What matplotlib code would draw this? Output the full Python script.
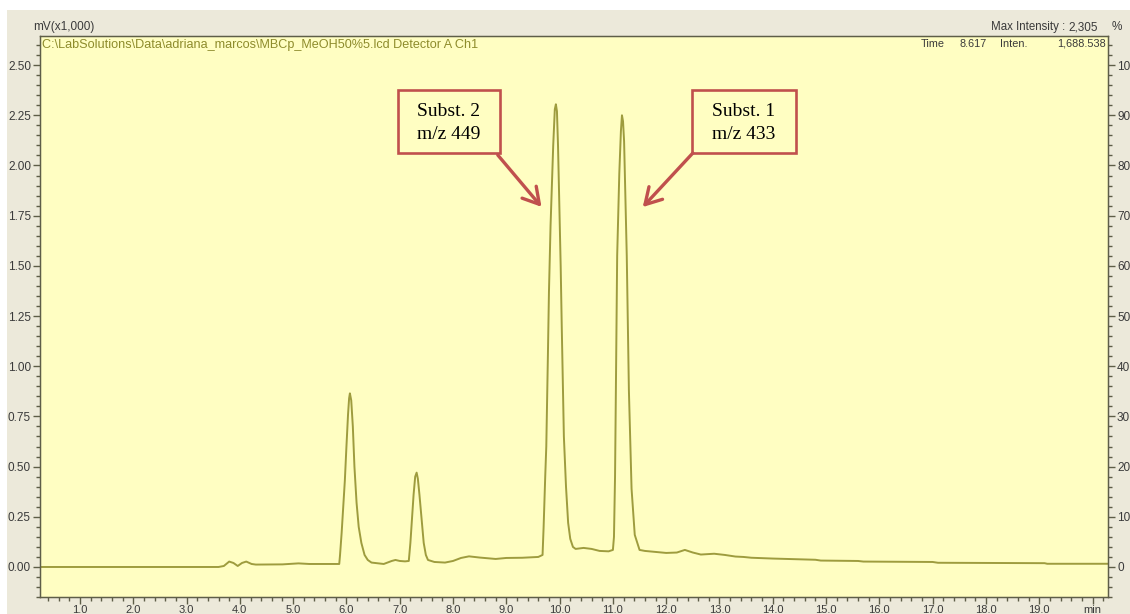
import matplotlib
matplotlib.use("Agg")
import matplotlib.pyplot as plt
from matplotlib.patches import Rectangle
from matplotlib.ticker import FixedLocator, MultipleLocator

# ---------------- data ----------------
time_min = [
    0.25, 3.60, 3.70, 3.80, 3.88, 3.96, 4.04, 4.12, 4.22, 4.30, 4.80, 5.10, 5.30, 5.865,
    5.88, 5.91, 5.94, 5.97, 6.00, 6.03, 6.05, 6.065, 6.09, 6.12, 6.15, 6.19, 6.23, 6.28, 6.34, 6.40, 6.47,
    6.70, 6.85, 6.92, 7.00, 7.10,
    7.17, 7.20, 7.23, 7.26, 7.29, 7.317, 7.34, 7.37, 7.41, 7.45, 7.49, 7.53,
    7.65, 7.85, 8.00, 8.15, 8.30, 8.50, 8.80, 9.00, 9.30, 9.60,
    9.68, 9.70, 9.73, 9.75, 9.78, 9.80, 9.83, 9.85, 9.88, 9.91, 9.93, 9.95, 9.97, 9.99,
    10.02, 10.04, 10.08, 10.12, 10.16, 10.20, 10.25,
    10.30, 10.45, 10.60, 10.75, 10.92,
    11.00, 11.02, 11.04, 11.05, 11.08, 11.12, 11.15, 11.17, 11.19, 11.21, 11.26, 11.30, 11.35, 11.41, 11.50,
    11.60, 11.80, 12.00, 12.20, 12.35, 12.50, 12.65, 12.90, 13.10, 13.30, 13.45, 13.60,
    14.00, 14.80, 14.90, 15.60, 15.70, 17.00, 17.10, 19.10, 19.15, 20.29,
]
signal_v = [  # x1,000 mV
    0.000, 0.000, 0.005, 0.027, 0.020, 0.005, 0.020, 0.027, 0.015, 0.012, 0.013, 0.018, 0.015, 0.015,
    0.060, 0.170, 0.300, 0.430, 0.600, 0.760, 0.840, 0.865, 0.830, 0.700, 0.500, 0.320, 0.200, 0.120, 0.060, 0.035, 0.022,
    0.015, 0.030, 0.035, 0.030, 0.028,
    0.030, 0.120, 0.240, 0.360, 0.450, 0.470, 0.440, 0.360, 0.240, 0.120, 0.060, 0.035,
    0.025, 0.022, 0.030, 0.045, 0.053, 0.047, 0.040, 0.045, 0.046, 0.050,
    0.060, 0.200, 0.450, 0.600, 1.050, 1.370, 1.700, 1.860, 2.100, 2.280, 2.305, 2.270, 2.100, 1.860,
    1.500, 1.200, 0.650, 0.400, 0.220, 0.140, 0.100,
    0.090, 0.095, 0.090, 0.080, 0.078,
    0.085, 0.150, 0.450, 0.720, 1.550, 1.960, 2.170, 2.250, 2.220, 2.120, 1.550, 0.880, 0.390, 0.160, 0.085,
    0.080, 0.075, 0.070, 0.072, 0.085, 0.072, 0.062, 0.066, 0.060, 0.052, 0.050, 0.046,
    0.042, 0.036, 0.032, 0.030, 0.027, 0.025, 0.021, 0.019, 0.016, 0.016,
]
x_major = list(range(1, 21))
x_labels = [f"{v:.1f}" for v in range(1, 20)] + ["min"]
y_major = [0.00, 0.25, 0.50, 0.75, 1.00, 1.25, 1.50, 1.75, 2.00, 2.25, 2.50]
pct_major = list(range(0, 101, 10))

# ---------------- figure ----------------
W, H = 1130, 614
fig = plt.figure(figsize=(W / 100, H / 100), dpi=100, facecolor="white")

def fx(px):
    return px / W

def fy(py):
    return 1 - py / H

fig.patches.append(Rectangle((fx(7), 0), 1 - fx(7), fy(10), transform=fig.transFigure,
                             facecolor="#ECE9DA", edgecolor="none", zorder=-10))

ax = fig.add_axes([fx(40), fy(597.3), fx(1108) - fx(40), fy(36) - fy(597.3)])
ax.set_facecolor("#FFFEC2")
ymin, ymax = -0.151, 2.645
ax.set_xlim(0.25, 20.29)
ax.set_ylim(ymin, ymax)

ax.plot(time_min, signal_v, color="#9E9C3E", lw=1.4, solid_joinstyle="round")

sans = ["Liberation Sans", "DejaVu Sans"]
tick_col = "#3A3A3A"
axis_col = "#5E5E48"
for s in ax.spines.values():
    s.set_color(axis_col)
    s.set_linewidth(1.0)

ax.xaxis.set_major_locator(FixedLocator(x_major))
ax.set_xticklabels(x_labels)
ax.xaxis.set_minor_locator(MultipleLocator(0.2))
ax.yaxis.set_major_locator(FixedLocator(y_major))
ax.set_yticklabels([f"{v:.2f}" for v in y_major])
ax.yaxis.set_minor_locator(MultipleLocator(0.05))
ax.tick_params(axis="both", which="major", direction="out", length=5, width=1,
               color=axis_col, labelcolor=tick_col, labelsize=8.5, pad=1.5)
ax.tick_params(axis="x", which="major", pad=0.8, labelsize=8)
ax.tick_params(axis="both", which="minor", direction="out", length=3, width=1, color=axis_col)
for lab in ax.get_xticklabels() + ax.get_yticklabels():
    lab.set_family(sans)

ax2 = ax.twinx()
ax2.set_ylim(ymin * 40, ymax * 40)
ax2.yaxis.set_major_locator(FixedLocator(pct_major))
ax2.set_yticklabels([str(v) for v in pct_major])
ax2.yaxis.set_minor_locator(MultipleLocator(2))
ax2.tick_params(axis="y", which="major", direction="out", length=5, width=1,
                color=axis_col, labelcolor=tick_col, labelsize=8.5, pad=1.5)
ax2.tick_params(axis="y", which="minor", direction="out", length=3, width=1, color=axis_col)
for lab in ax2.get_yticklabels():
    lab.set_family(sans)
for s in ax2.spines.values():
    s.set_color(axis_col)

# header texts
fig.text(fx(33), fy(27), "mV(x1,000)", ha="left", va="center", size=8.5, color=tick_col, family=sans)
fig.text(fx(42), fy(45), "C:\\LabSolutions\\Data\\adriana_marcos\\MBCp_MeOH50%5.lcd Detector A Ch1",
         ha="left", va="center", size=9.1, color="#8E8C2C", family=sans)
fig.text(fx(1065), fy(27), "Max Intensity :", ha="right", va="center", size=8.3, color=tick_col, family=sans)
fig.text(fx(1098), fy(27), "2,305", ha="right", va="center", size=8.5, color=tick_col, family=sans)
fig.text(fx(1117), fy(27), "%", ha="center", va="center", size=8.5, color=tick_col, family=sans)
fig.text(fx(921), fy(44), "Time", ha="left", va="center", size=7.8, color=tick_col, family=sans)
fig.text(fx(960), fy(44), "8.617", ha="left", va="center", size=7.8, color=tick_col, family=sans)
fig.text(fx(1000), fy(44), "Inten.", ha="left", va="center", size=7.8, color=tick_col, family=sans)
fig.text(fx(1106), fy(44), "1,688.538", ha="right", va="center", size=7.8, color=tick_col, family=sans)

# annotation boxes and arrows
red = "#C0504D"
for (x0, x1, txt) in [(6.97, 8.88, "Subst. 2\nm/z 449"), (12.48, 14.43, "Subst. 1\nm/z 433")]:
    ax.add_patch(Rectangle((x0, 2.062), x1 - x0, 2.375 - 2.062, facecolor="none",
                           edgecolor=red, lw=1.9, zorder=5))
    ax.text((x0 + x1) / 2, 2.21, txt, ha="center", va="center", size=14,
            family=["Liberation Serif", "DejaVu Serif"], color="black", linespacing=1.45, zorder=6)

for (tail, tip) in [((8.84, 2.052), (9.66, 1.794)), ((12.50, 2.062), (11.56, 1.793))]:
    ax.annotate("", xy=tip, xytext=tail,
                arrowprops=dict(arrowstyle="->,head_length=0.6,head_width=0.35", color=red,
                                lw=2.4, mutation_scale=19, shrinkA=0, shrinkB=0), zorder=6)

fig.savefig("out.png", dpi=100, facecolor=fig.get_facecolor())
